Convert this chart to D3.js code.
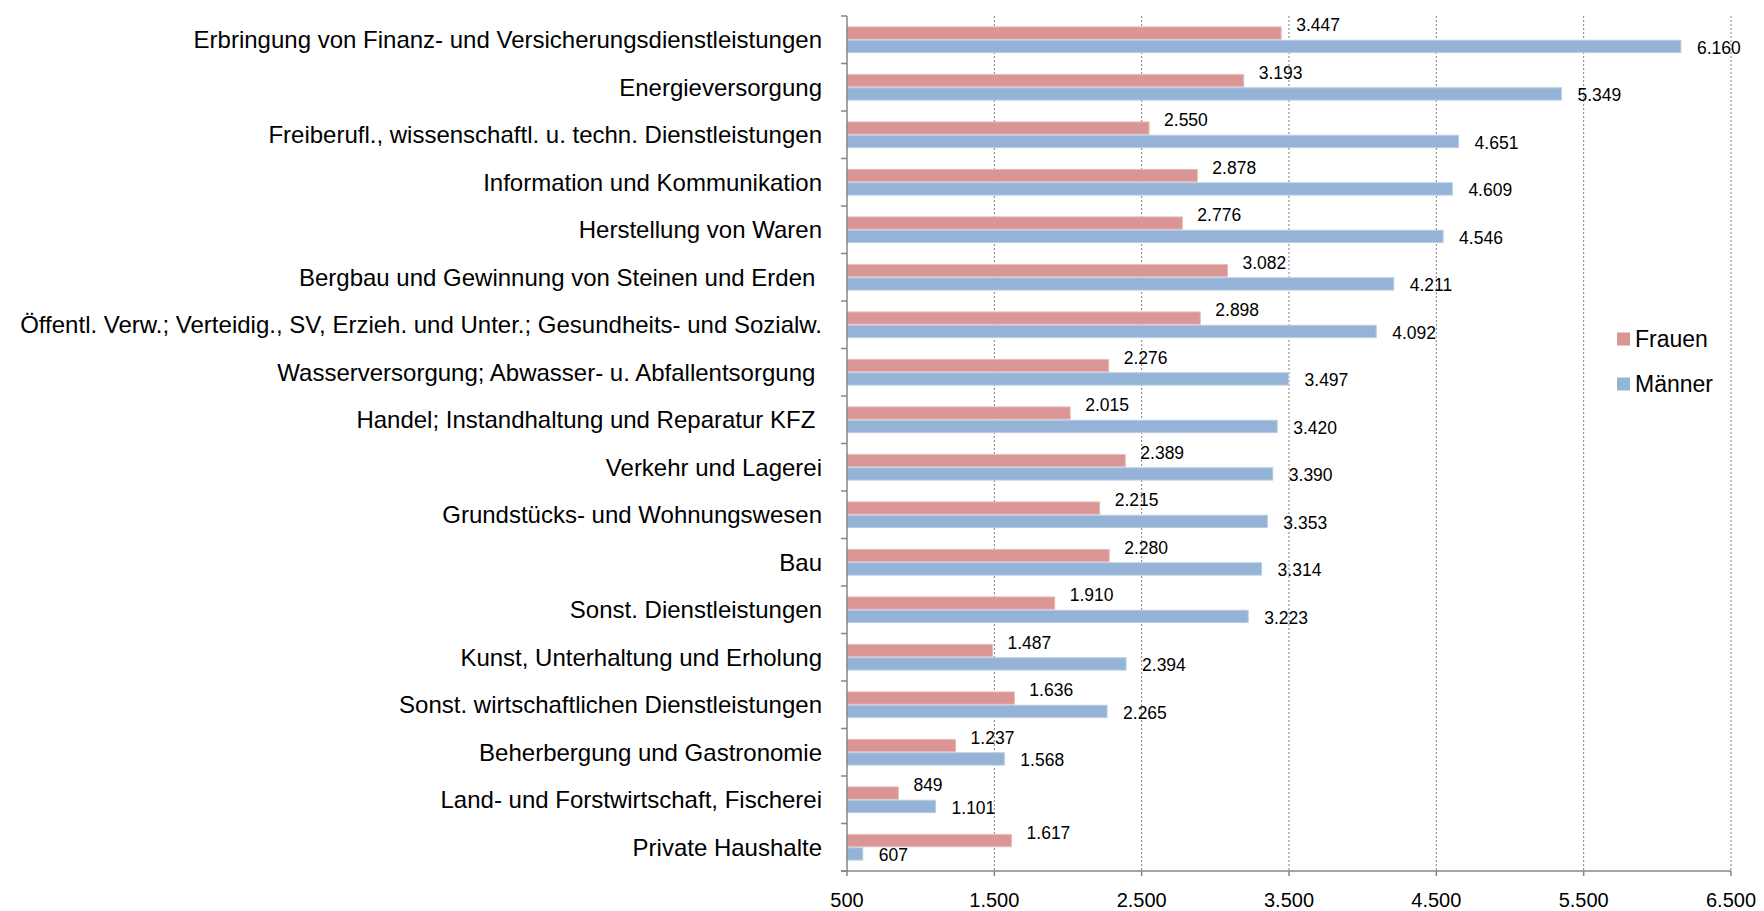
<!DOCTYPE html>
<html>
<head>
<meta charset="utf-8">
<script src="https://cdn.jsdelivr.net/npm/d3@7"></script>
<style>
  body { margin: 0; background: #fff; }
  text { font-family: "Liberation Sans", Arial, sans-serif; fill: #000; }
</style>
</head>
<body>
<div id="vis"><svg></svg></div>
<script>
// categories, top to bottom
const branchen = [
  "Erbringung von Finanz- und Versicherungsdienstleistungen",
  "Energieversorgung",
  "Freiberufl., wissenschaftl. u. techn. Dienstleistungen",
  "Information und Kommunikation",
  "Herstellung von Waren",
  "Bergbau und Gewinnung von Steinen und Erden ",
  "Öffentl. Verw.; Verteidig., SV, Erzieh. und Unter.; Gesundheits- und Sozialw.",
  "Wasserversorgung; Abwasser- u. Abfallentsorgung ",
  "Handel; Instandhaltung und Reparatur KFZ ",
  "Verkehr und Lagerei",
  "Grundstücks- und Wohnungswesen",
  "Bau",
  "Sonst. Dienstleistungen",
  "Kunst, Unterhaltung und Erholung",
  "Sonst. wirtschaftlichen Dienstleistungen",
  "Beherbergung und Gastronomie",
  "Land- und Forstwirtschaft, Fischerei",
  "Private Haushalte"
];
const frauen = [3447, 3193, 2550, 2878, 2776, 3082, 2898, 2276, 2015, 2389, 2215, 2280, 1910, 1487, 1636, 1237, 849, 1617];
const maenner = [6160, 5349, 4651, 4609, 4546, 4211, 4092, 3497, 3420, 3390, 3353, 3314, 3223, 2394, 2265, 1568, 1101, 607];
const xTicks = [500, 1500, 2500, 3500, 4500, 5500, 6500];
const serien = ["Frauen", "Männer"];

const width = 1764, height = 911;
const margin = {top: 16, right: 33, bottom: 40, left: 847};
const farben = {"Frauen": "#d99694", "Männer": "#95b3d7"};
const kanten = {"Frauen": "#e8bcbb", "Männer": "#b9cde6"};

const de = d3.formatLocale({decimal: ",", thousands: ".", grouping: [3], currency: ["", " €"]});
const fmt = de.format(",d");

const svg = d3.select("#vis").select("svg")
  .attr("width", width)
  .attr("height", height);

const x = d3.scaleLinear().domain([500, 6500]).range([margin.left, width - margin.right]);
const y = d3.scaleBand().domain(branchen).range([margin.top, height - margin.bottom]);
const sub = d3.scaleBand().domain(serien).range([0, y.bandwidth()]).paddingOuter(0.78).paddingInner(0);

// gridlines
svg.append("g")
  .selectAll("line")
  .data(xTicks.slice(1))
  .join("line")
  .attr("x1", d => x(d)).attr("x2", d => x(d))
  .attr("y1", margin.top).attr("y2", height - margin.bottom)
  .attr("stroke", "#7f7f7f")
  .attr("stroke-width", 1)
  .attr("stroke-dasharray", "2,2");

// bars
const rows = branchen.map((b, i) => ({b, Frauen: frauen[i], "Männer": maenner[i]}));
const grp = svg.append("g")
  .selectAll("g")
  .data(rows)
  .join("g")
  .attr("transform", d => `translate(0,${y(d.b)})`);

grp.selectAll("rect")
  .data(d => serien.map(s => ({s, v: d[s]})))
  .join("rect")
  .attr("x", x(500))
  .attr("y", d => sub(d.s) + 0.5)
  .attr("width", d => x(d.v) - x(500))
  .attr("height", sub.bandwidth() - 1)
  .attr("fill", d => farben[d.s])
  .attr("stroke", d => kanten[d.s])
  .attr("stroke-width", 1);

grp.selectAll("text")
  .data(d => serien.map(s => ({s, v: d[s]})))
  .join("text")
  .attr("x", d => x(d.v) + (d.s === "Frauen" ? 15 : 16))
  .attr("y", d => sub(d.s) + sub.bandwidth() / 2 + (d.s === "Frauen" ? -8 : 1))
  .attr("dy", "0.35em")
  .style("font-size", "17.5px")
  .text(d => fmt(d.v));

// y axis
const yAxis = svg.append("g").attr("transform", `translate(${margin.left},0)`);
yAxis.append("line")
  .attr("x1", 0).attr("x2", 0)
  .attr("y1", margin.top).attr("y2", height - margin.bottom)
  .attr("stroke", "#868686").attr("stroke-width", 1.5);
yAxis.selectAll(".tk")
  .data(branchen.map(b => y(b)).concat([height - margin.bottom]))
  .join("line")
  .attr("x1", -6).attr("x2", 0)
  .attr("y1", d => d).attr("y2", d => d)
  .attr("stroke", "#868686").attr("stroke-width", 1.5);
yAxis.selectAll("text")
  .data(branchen)
  .join("text")
  .attr("x", -25)
  .attr("y", d => y(d) + y.bandwidth() / 2)
  .attr("dy", "0.35em")
  .attr("text-anchor", "end")
  .style("font-size", "24px")
  .style("white-space", "pre")
  .text(d => d);

// x axis
const xAxis = svg.append("g").attr("transform", `translate(0,${height - margin.bottom})`);
xAxis.append("line")
  .attr("x1", margin.left - 6).attr("x2", width - margin.right)
  .attr("stroke", "#868686").attr("stroke-width", 1.5);
xAxis.selectAll(".tk")
  .data(xTicks)
  .join("line")
  .attr("x1", d => x(d)).attr("x2", d => x(d))
  .attr("y1", 0).attr("y2", 5)
  .attr("stroke", "#868686").attr("stroke-width", 1.5);
xAxis.selectAll("text")
  .data(xTicks)
  .join("text")
  .attr("x", d => x(d))
  .attr("y", 29)
  .attr("dy", "0.35em")
  .attr("text-anchor", "middle")
  .style("font-size", "20px")
  .text(d => fmt(d));

// legend
const leg = svg.append("g").attr("transform", "translate(1617,339)");
leg.selectAll("rect")
  .data(serien)
  .join("rect")
  .attr("x", 0)
  .attr("y", (d, i) => i * 45 - 6.5)
  .attr("width", 13).attr("height", 13)
  .attr("fill", d => farben[d]);
leg.selectAll("text")
  .data(serien)
  .join("text")
  .attr("x", 18)
  .attr("y", (d, i) => i * 45)
  .attr("dy", "0.35em")
  .style("font-size", "23px")
  .text(d => d);
</script>
</body>
</html>
